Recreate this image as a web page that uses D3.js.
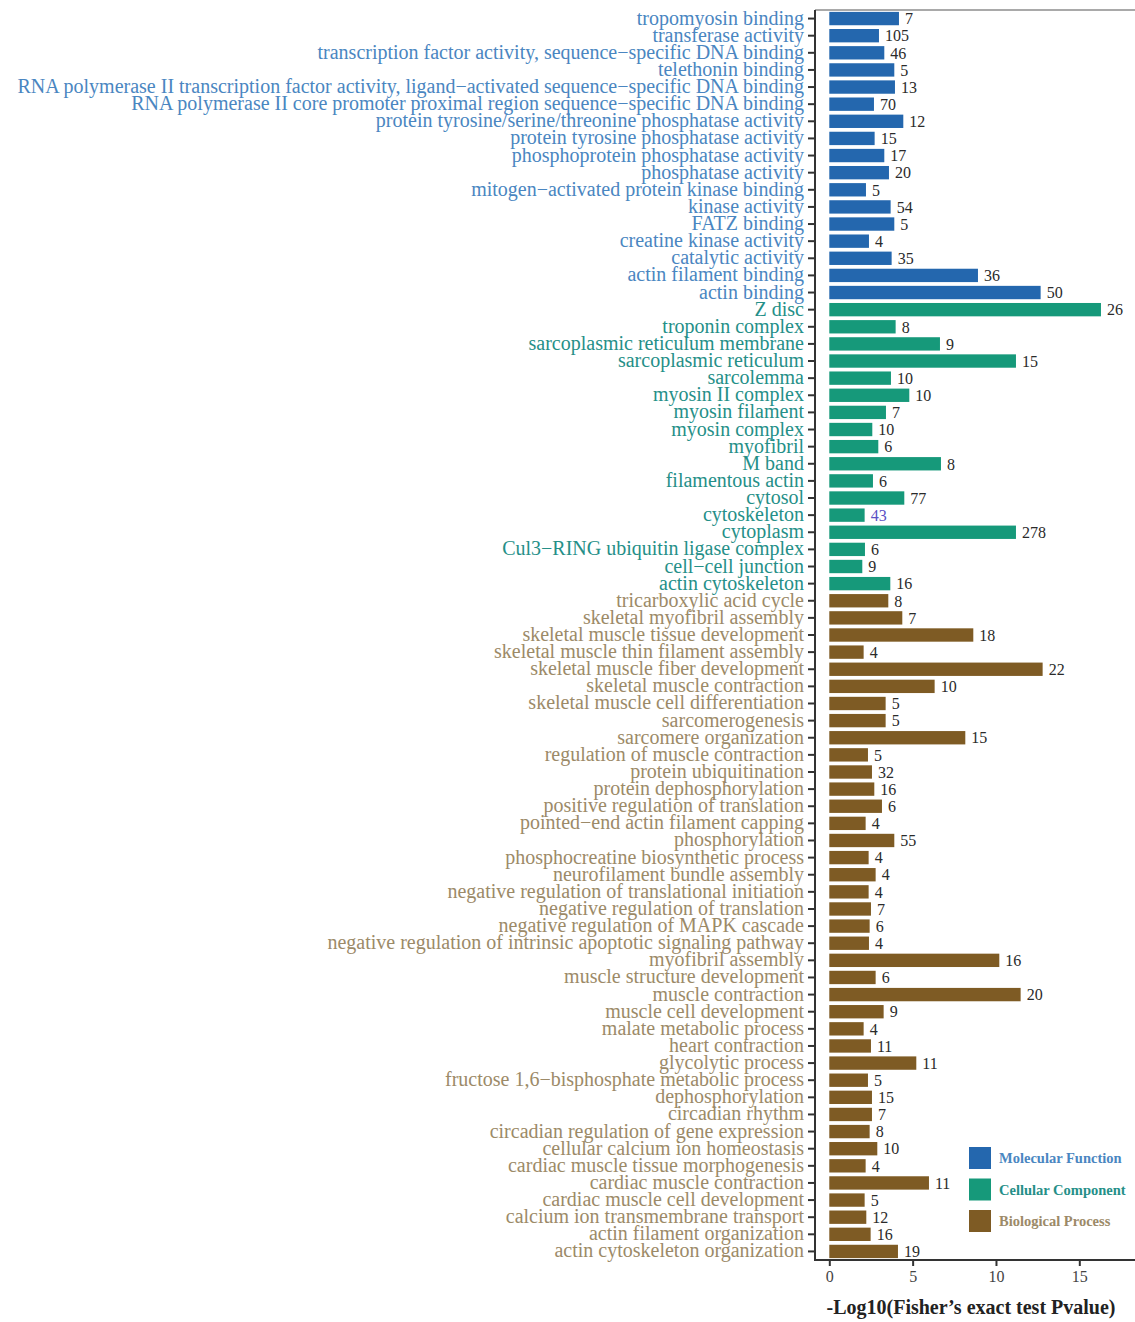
<!DOCTYPE html>
<html>
<head>
<meta charset="utf-8">
<script src="https://cdn.jsdelivr.net/npm/d3@7/dist/d3.min.js"></script>
<style>
  html, body { margin: 0; padding: 0; background: #fff; }
  svg { display: block; }
  text { font-family: "Liberation Serif", "Times New Roman", serif; }
</style>
</head>
<body>
<svg id="chart" width="1135" height="1322"></svg>
<script>
// GO enrichment terms, grouped by ontology (top to bottom as drawn)
const mfTerms = [
  "tropomyosin binding", "transferase activity",
  "transcription factor activity, sequence−specific DNA binding",
  "telethonin binding",
  "RNA polymerase II transcription factor activity, ligand−activated sequence−specific DNA binding",
  "RNA polymerase II core promoter proximal region sequence−specific DNA binding",
  "protein tyrosine/serine/threonine phosphatase activity",
  "protein tyrosine phosphatase activity", "phosphoprotein phosphatase activity",
  "phosphatase activity", "mitogen−activated protein kinase binding",
  "kinase activity", "FATZ binding", "creatine kinase activity",
  "catalytic activity", "actin filament binding", "actin binding"
];
const mfScore = [4.18, 2.98, 3.30, 3.90, 3.94, 2.68, 4.44, 2.72, 3.30, 3.58, 2.20, 3.68, 3.90, 2.38, 3.74, 8.92, 12.68];
const mfCount = [7, 105, 46, 5, 13, 70, 12, 15, 17, 20, 5, 54, 5, 4, 35, 36, 50];

const ccTerms = [
  "Z disc", "troponin complex", "sarcoplasmic reticulum membrane",
  "sarcoplasmic reticulum", "sarcolemma", "myosin II complex",
  "myosin filament", "myosin complex", "myofibril", "M band",
  "filamentous actin", "cytosol", "cytoskeleton", "cytoplasm",
  "Cul3−RING ubiquitin ligase complex", "cell−cell junction", "actin cytoskeleton"
];
const ccScore = [16.30, 3.98, 6.64, 11.20, 3.70, 4.80, 3.40, 2.58, 2.94, 6.70, 2.62, 4.50, 2.12, 11.20, 2.14, 1.98, 3.66];
const ccCount = [26, 8, 9, 15, 10, 10, 7, 10, 6, 8, 6, 77, 43, 278, 6, 9, 16];

const bpTerms = [
  "tricarboxylic acid cycle", "skeletal myofibril assembly",
  "skeletal muscle tissue development", "skeletal muscle thin filament assembly",
  "skeletal muscle fiber development", "skeletal muscle contraction",
  "skeletal muscle cell differentiation", "sarcomerogenesis",
  "sarcomere organization", "regulation of muscle contraction",
  "protein ubiquitination", "protein dephosphorylation",
  "positive regulation of translation", "pointed−end actin filament capping",
  "phosphorylation", "phosphocreatine biosynthetic process",
  "neurofilament bundle assembly", "negative regulation of translational initiation",
  "negative regulation of translation", "negative regulation of MAPK cascade",
  "negative regulation of intrinsic apoptotic signaling pathway",
  "myofibril assembly", "muscle structure development", "muscle contraction",
  "muscle cell development", "malate metabolic process", "heart contraction",
  "glycolytic process", "fructose 1,6−bisphosphate metabolic process",
  "dephosphorylation", "circadian rhythm", "circadian regulation of gene expression",
  "cellular calcium ion homeostasis", "cardiac muscle tissue morphogenesis",
  "cardiac muscle contraction", "cardiac muscle cell development",
  "calcium ion transmembrane transport", "actin filament organization",
  "actin cytoskeleton organization"
];
const bpScore = [3.54, 4.38, 8.64, 2.06, 12.80, 6.32, 3.38, 3.38, 8.16, 2.32, 2.56, 2.70, 3.16, 2.18, 3.90, 2.36, 2.78, 2.36, 2.50, 2.42, 2.38, 10.20, 2.78, 11.48, 3.26, 2.06, 2.50, 5.22, 2.32, 2.56, 2.56, 2.42, 2.88, 2.18, 5.98, 2.12, 2.22, 2.48, 4.12];
const bpCount = [8, 7, 18, 4, 22, 10, 5, 5, 15, 5, 32, 16, 6, 4, 55, 4, 4, 4, 7, 6, 4, 16, 6, 20, 9, 4, 11, 11, 5, 15, 7, 8, 10, 4, 11, 5, 12, 16, 19];

const groupNames = ["Molecular Function", "Cellular Component", "Biological Process"];
const xTicks = [0, 5, 10, 15];

// Styling per ontology
const barColor = { "Molecular Function": "#2467ae", "Cellular Component": "#16997a", "Biological Process": "#7e5b24" };
const labelColor = { "Molecular Function": "#4a86c1", "Cellular Component": "#258f88", "Biological Process": "#9c8a68" };

const rows = [];
[[mfTerms, mfScore, mfCount, groupNames[0]],
 [ccTerms, ccScore, ccCount, groupNames[1]],
 [bpTerms, bpScore, bpCount, groupNames[2]]].forEach(([t, s, c, g]) => {
  t.forEach((term, i) => rows.push({ term, score: s[i], count: c[i], group: g }));
});

const svg = d3.select("#chart");

const panel = { left: 815, right: 1145, top: 10, bottom: 1260 };

const y = d3.scaleBand()
  .domain(rows.map(d => d.term))
  .range([panel.top, panel.bottom])
  .paddingInner(0.22)
  .paddingOuter(0.11);

const x = d3.scaleLinear().domain([0, 15]).range([829.3, 1079.3]);

// panel frame (top edge)
svg.append("line")
  .attr("x1", panel.left).attr("x2", panel.right)
  .attr("y1", panel.top).attr("y2", panel.top)
  .attr("stroke", "#555").attr("stroke-width", 1.2);

// bars
svg.append("g").selectAll("rect")
  .data(rows)
  .join("rect")
  .attr("x", x(0))
  .attr("y", d => y(d.term))
  .attr("width", d => x(d.score) - x(0))
  .attr("height", y.bandwidth())
  .attr("fill", d => barColor[d.group]);

// count labels
svg.append("g").selectAll("text")
  .data(rows)
  .join("text")
  .attr("x", d => x(d.score) + 6)
  .attr("y", d => y(d.term) + y.bandwidth() / 2)
  .attr("dy", "0.36em")
  .attr("font-size", 16)
  .attr("fill", d => d.term === "cytoskeleton" ? "#5b4fc4" : "#2a2a2a")
  .text(d => d.count);

// y axis with coloured term labels
const yAxis = svg.append("g")
  .attr("transform", `translate(${panel.left},0)`)
  .call(d3.axisLeft(y).tickSize(7).tickPadding(4));
yAxis.select(".domain").remove();
yAxis.selectAll(".tick line").attr("stroke", "#333").attr("stroke-width", 2);
yAxis.selectAll(".tick text")
  .attr("font-size", 20)
  .attr("font-family", "Liberation Serif, serif")
  .attr("dy", "0.3em")
  .attr("fill", d => labelColor[rows.find(r => r.term === d).group]);

svg.append("line")
  .attr("x1", panel.left).attr("x2", panel.left)
  .attr("y1", panel.top).attr("y2", panel.bottom + 1)
  .attr("stroke", "#333").attr("stroke-width", 2);

// x axis
const xAxis = svg.append("g")
  .attr("transform", `translate(0,${panel.bottom})`)
  .call(d3.axisBottom(x).tickValues(xTicks).tickSize(6).tickPadding(5));
xAxis.select(".domain").remove();
xAxis.selectAll(".tick line").attr("stroke", "#333").attr("stroke-width", 2);
xAxis.selectAll(".tick text")
  .attr("font-size", 16)
  .attr("font-family", "Liberation Serif, serif")
  .attr("fill", "#444");

svg.append("line")
  .attr("x1", panel.left - 1).attr("x2", panel.right)
  .attr("y1", panel.bottom).attr("y2", panel.bottom)
  .attr("stroke", "#333").attr("stroke-width", 2);

// axis title
svg.append("text")
  .attr("x", 971)
  .attr("y", 1314)
  .attr("text-anchor", "middle")
  .attr("font-size", 20)
  .attr("font-weight", "bold")
  .attr("fill", "#222")
  .text("-Log10(Fisher’s exact test Pvalue)");

// legend
const legend = svg.append("g").attr("transform", "translate(969,1147)");
const lg = legend.selectAll("g")
  .data(groupNames)
  .join("g")
  .attr("transform", (d, i) => `translate(0,${i * 31.5})`);
lg.append("rect")
  .attr("width", 22).attr("height", 22)
  .attr("fill", d => barColor[d]);
lg.append("text")
  .attr("x", 30).attr("y", 11).attr("dy", "0.35em")
  .attr("font-size", 14.5)
  .attr("font-weight", "bold")
  .attr("fill", d => labelColor[d])
  .text(d => d);
</script>
</body>
</html>
